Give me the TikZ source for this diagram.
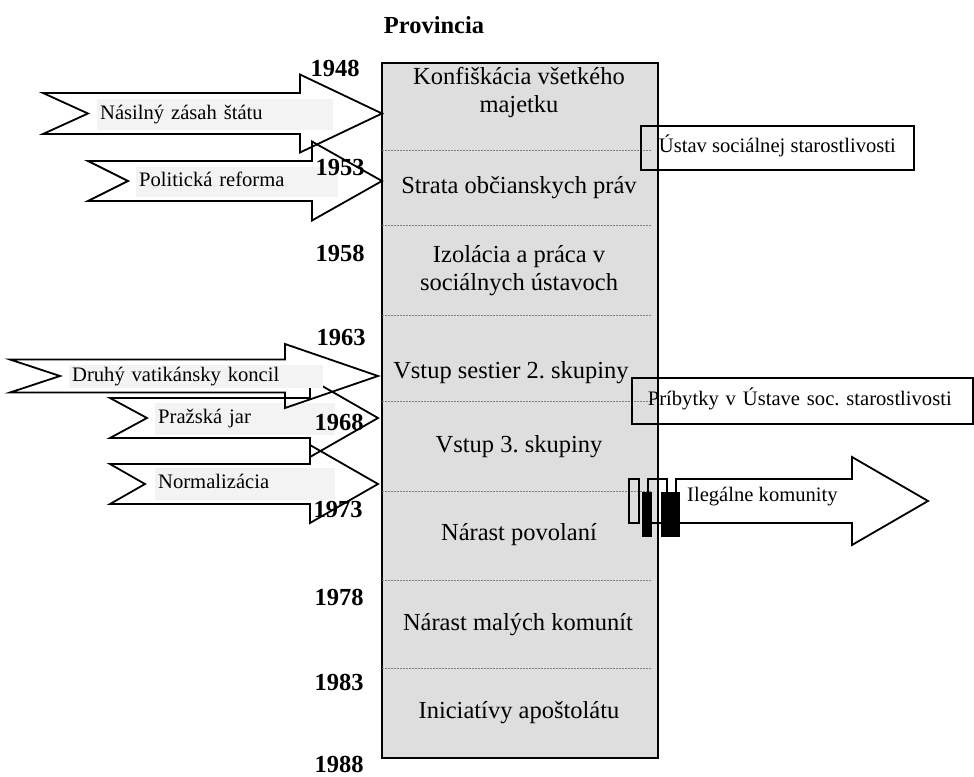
\documentclass[tikz,border=0pt]{standalone}
\usepackage{fontspec}
\setmainfont{Liberation Serif}
\usetikzlibrary{positioning}
\frenchspacing
\definecolor{colgray}{HTML}{DEDEDE}
\definecolor{labgray}{HTML}{F3F3F3}
% notched arrow: tail x, notch x, head base x, tip x, middle y, half shaft, half head
\newcommand{\notcharrow}[7]{%
  \draw[arrowline] (#1,#5-#6) -- (#3,#5-#6) -- (#3,#5-#7) -- (#4,#5)
    -- (#3,#5+#7) -- (#3,#5+#6) -- (#1,#5+#6) -- (#2,#5) -- cycle;}

\begin{document}
\begin{tikzpicture}[x=1pt,y=-1pt,
  arrowline/.style={draw=black,line width=1.8pt,line join=miter},
  provcol/.style={draw=black,line width=2pt,fill=colgray,inner sep=0pt,anchor=north west},
  divider/.style={draw=gray,line width=0.8pt,dash pattern=on 2pt off 1pt},
  event/.style={font=\fontsize{24.5}{28}\selectfont,align=center,inner sep=0pt},
  year/.style={font=\fontsize{24.5}{28}\selectfont\bfseries,inner sep=0pt},
  causebox/.style={fill=labgray,anchor=west,inner xsep=3pt,inner ysep=0pt,align=left,
    font=\fontsize{20.6}{24}\selectfont,text height=14pt,text depth=4.5pt},
  notebox/.style={draw=black,line width=1.8pt,anchor=west,inner ysep=0pt,
    font=\fontsize{20.6}{24}\selectfont,text height=14pt,text depth=4.5pt}]
  \useasboundingbox (0,0) rectangle (974,776);

  \node[year] (title) at (434,25) {Provincia};

  \node[provcol,minimum width=276pt,minimum height=695pt] (prov) at (381,62) {};
  \draw[divider] (382,150) -- (652,150) (382,225) -- (652,225) (382,315) -- (652,315)
    (382,401) -- (652,401) (382,491) -- (652,491) (382,580) -- (652,580)
    (382,668) -- (652,668);

  \node[event] (e1) at (519,92.5) {Konfiškácia všetkého\\majetku};
  \node[event] (e2) at (519,188) {Strata občianskych práv};
  \node[event] (e3) at (519,271) {Izolácia a práca v\\sociálnych ústavoch};
  \node[event] (e4) at (511,373) {Vstup sestier 2. skupiny};
  \node[event] (e5) at (519,447) {Vstup 3. skupiny};
  \node[event] (e6) at (519,535) {Nárast povolaní};
  \node[event] (e7) at (518,625) {Nárast malých komunít};
  \node[event] (e8) at (519,713) {Iniciatívy apoštolátu};

  % causes on the left
  \notcharrow{110}{145}{310}{378}{484}{20}{39}
  \node[causebox,text width=174pt,minimum height=32pt] (c5) at (155,484) {Normalizácia};
  \notcharrow{110}{147}{310}{378}{418}{20}{39}
  \node[causebox,text width=174pt,minimum height=32pt] (c4) at (155,419) {Pražská jar};
  \notcharrow{10}{60}{285}{378}{376}{16.5}{32}
  \node[causebox,text width=248pt,minimum height=23pt] (c3) at (69,376.5) {Druhý vatikánsky koncil};
  \notcharrow{88}{128}{312}{382}{181}{20}{39.5}
  \node[causebox,text width=196pt,minimum height=30pt] (c2) at (136,182) {Politická reforma};
  \notcharrow{43}{88}{300}{382}{113.5}{20.5}{39}
  \node[causebox,text width=230pt,minimum height=31pt] (c1) at (97,114.5) {Násilný zásah štátu};

  \node[year] (y48) at (335,68) {1948};
  \node[year] (y53) at (340,168) {1953};
  \node[year] (y58) at (340,253) {1958};
  \node[year] (y63) at (341,338) {1963};
  \node[year] (y68) at (339,422) {1968};
  \node[year] (y73) at (338,510) {1973};
  \node[year] (y78) at (339,597) {1978};
  \node[year] (y83) at (339,682) {1983};
  \node[year] (y88) at (339,764) {1988};

  % right side
  \node[notebox,minimum width=273pt,minimum height=44pt] (n1) at (640,148) {Ústav sociálnej starostlivosti};
  \node[notebox,inner xsep=16pt,text width=309pt,align=left,minimum height=46pt] (n2) at (631,401) {Príbytky v Ústave soc. starostlivosti};

  \draw[arrowline,fill=white] (676,479) -- (852,479) -- (852,457) -- (928,501)
    -- (852,545) -- (852,523) -- (676,523) -- cycle;
  \node[font=\fontsize{20.6}{24}\selectfont,inner sep=0pt,anchor=west] (ileg) at (687,497) {Ilegálne komunity};
  \draw[line width=1.5pt] (629,479) rectangle (639,523);
  \draw[line width=1.5pt] (648,479) rectangle (667,523);
  \fill (642,492) rectangle (652,537);
  \fill (661,492) rectangle (680,537);
\end{tikzpicture}
\end{document}
